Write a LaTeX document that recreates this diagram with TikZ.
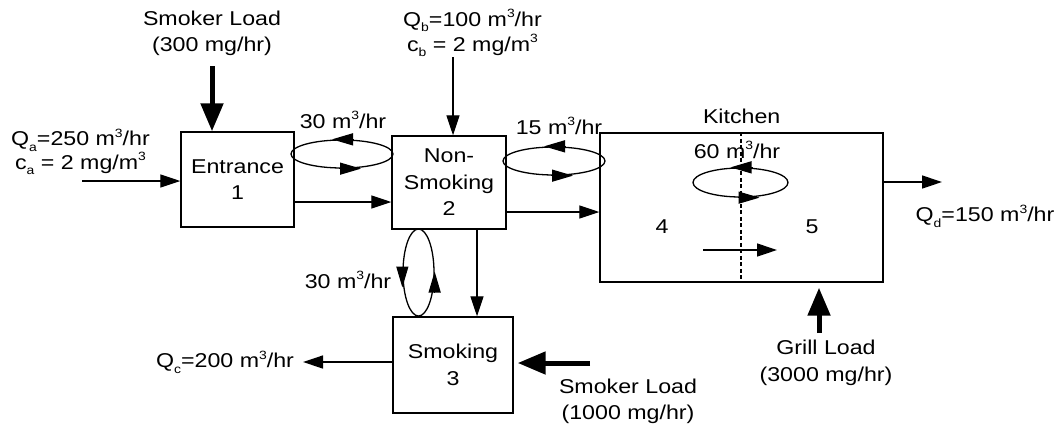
\documentclass[tikz,border=0pt]{standalone}
\usepackage{fontspec}
\setmainfont{Liberation Sans}[FakeStretch=1.16]
\usetikzlibrary{arrows.meta,shapes.geometric}
\newcommand\mysub[1]{\raisebox{-0.28em}{\fontsize{12}{12}\selectfont #1}}
\newcommand\mysup[1]{\raisebox{0.42em}{\fontsize{12}{12}\selectfont #1}}
\begin{document}
\begin{tikzpicture}[x=1pt,y=-1pt,
  every node/.style={font=\fontsize{20}{26.5}\selectfont, inner sep=0pt, align=center},
  room/.style n args={2}{draw, line width=1.4pt, minimum width=#1, minimum height=#2},
  loop/.style n args={2}{draw, ellipse, line width=1.3pt, minimum width=#1, minimum height=#2},
  thin/.style={line width=1.3pt, -{Triangle[length=20pt,width=13pt]}},
  thick/.style={line width=5pt, -{Triangle[length=28pt,width=22pt]}},
  ehead/.style={line width=1.3pt, -{Triangle[length=21pt,width=12pt]}},
  divider/.style={line width=1.2pt, dash pattern=on 4pt off 2.5pt}]
\useasboundingbox (0,0) rectangle (1060,426);
% rooms
\node[room={113pt}{95pt}] (ent) at (237.5,179.5) {Entrance\\1};
\node[room={114pt}{93pt}] (ns) at (449,182.5) {Non-\\Smoking\\2};
\node[room={283pt}{149pt}] (kit) at (741.5,207.5) {};
\node[room={120pt}{96pt}] (sm) at (453,365) {Smoking\\3};
% labels
\node (kitl) at (741.7,116) {Kitchen};
\node (z4) at (662,227) {4};
\node (z5) at (812,227) {5};
\node[font=\fontsize{20}{26}\selectfont] (sl1) at (212,33) {Smoker Load\\(300 mg/hr)};
\node[font=\fontsize{20}{21}\selectfont] (qa) at (80.5,152) {Q\mysub{a}=250 m\mysup{3}/hr\\c\mysub{a} = 2 mg/m\mysup{3}};
\node[font=\fontsize{20}{25}\selectfont] (qb) at (472.5,33) {Q\mysub{b}=100 m\mysup{3}/hr\\c\mysub{b} = 2 mg/m\mysup{3}};
\node (f12) at (343,120) {30 m\mysup{3}/hr};
\node (f24) at (559,126) {15 m\mysup{3}/hr};
\node (f45) at (737,150) {60 m\mysup{3}/hr};
\node (f23) at (348,280) {30 m\mysup{3}/hr};
\node (qd) at (985,216) {Q\mysub{d}=150 m\mysup{3}/hr};
\node (qc) at (225,362) {Q\mysub{c}=200 m\mysup{3}/hr};
\node[font=\fontsize{20}{27}\selectfont] (gl) at (826,363) {Grill Load\\(3000 mg/hr)};
\node[font=\fontsize{20}{26}\selectfont] (sl3) at (628,401) {Smoker Load\\(1000 mg/hr)};
% free ends
\coordinate (qain) at (82,181);
\coordinate (qbin) at (453,57);
\coordinate (sl1s) at (212,66);
\coordinate (qcout) at (303,362);
\coordinate (qdout) at (942,182);
\coordinate (sl3s) at (590,363);
\coordinate (gls) at (819,333);
\coordinate (in4) at (703,250);
\coordinate (in5) at (777,250);
% flows
\draw[thin] (qain) -- (qain -| ent.west);
\draw[thick] (sl1s) -- (sl1s |- ent.north);
\draw[thin] (ent.east |- 0,202) -- (ns.west |- 0,202);
\draw[thin] (qbin) -- (qbin |- ns.north);
\draw[thin] (ns.east |- 0,212) -- (kit.west |- 0,212);
\draw[thin] (ns.south -| 477,0) -- (sm.north -| 477,0);
\draw[thin] (sm.west |- qcout) -- (qcout);
\draw[thick, shorten >=4pt] (sl3s) -- (sl3s -| sm.east);
\draw[thin] (kit.east |- qdout) -- (qdout);
\draw[thick, shorten >=5pt] (gls) -- (gls |- kit.south);
\draw[thin] (in4) -- (in5);
\draw[divider] (kit.north -| 741,0) -- (kit.south -| 741,0);
% exchange loops
\node[loop={102pt}{28pt}] (e12) at (342,154) {};
\node[loop={102pt}{28pt}] (e24) at (554,161) {};
\node[loop={95pt}{29pt}] (e45) at (740.5,182.5) {};
\node[loop={31pt}{87pt}] (e23) at (418.5,272.5) {};
\draw[ehead] ([xshift=12pt]e12.north) -- ([xshift=-10pt]e12.north);
\draw[ehead] ([xshift=-3pt]e12.south) -- ([xshift=19pt]e12.south);
\draw[ehead] ([xshift=12pt]e24.north) -- ([xshift=-10pt]e24.north);
\draw[ehead] ([xshift=-3pt]e24.south) -- ([xshift=19pt]e24.south);
\draw[ehead] ([xshift=12pt]e45.north) -- ([xshift=-10pt]e45.north);
\draw[ehead] ([xshift=-3pt]e45.south) -- ([xshift=19pt]e45.south);
\draw[ehead] ([yshift=6pt]e23.west) -- ([yshift=-15pt]e23.west);
\draw[ehead] ([yshift=-20pt]e23.east) -- ([yshift=1pt]e23.east);
\end{tikzpicture}
\end{document}
